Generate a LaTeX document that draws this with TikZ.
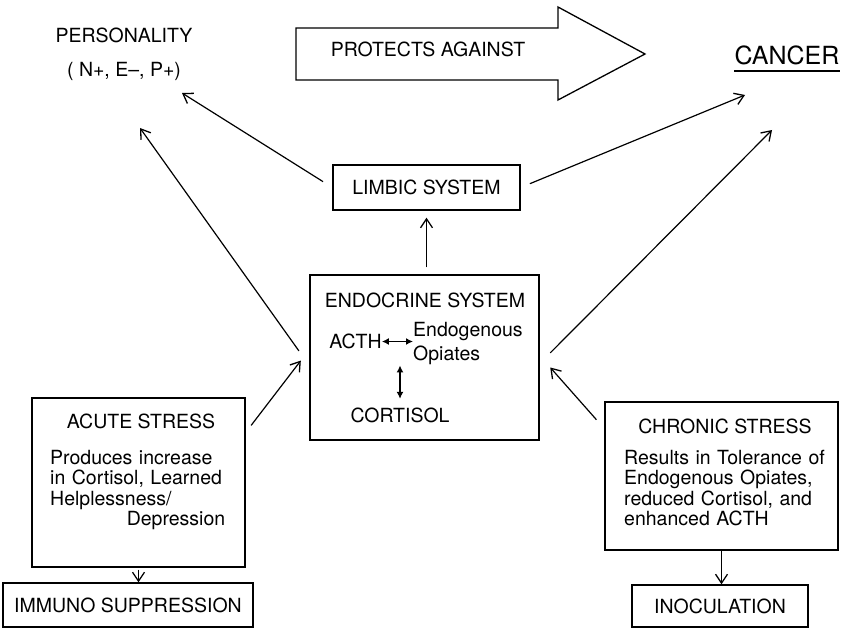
\documentclass[tikz,border=0pt]{standalone}
\usepackage{fontspec}
\setmainfont{TeX Gyre Heros}
\usetikzlibrary{arrows.meta}

\begin{document}
\begin{tikzpicture}
[x=1pt,y=-1pt,
 font=\fontsize{19.5}{20.5}\selectfont,
 box/.style={draw,line width=1.3pt,inner sep=0pt},
 lbl/.style={inner sep=0pt},
 txt/.style={inner sep=0pt,align=left,anchor=north west},
 arr/.style={line width=1.2pt,-{Straight Barb[length=9pt,width=12pt,line width=1.3pt]}},
 dbl/.style={line width=1.4pt,{Latex[length=7pt,width=7pt]}-{Latex[length=7pt,width=7pt]}}]
\useasboundingbox (0,0) rectangle (845,628);
\node[lbl] (pers) at (124,35.5) {PERSONALITY};
\node[lbl] (pvals) at (124,71) {( N+, E–, P+)};
\draw[line width=1.3pt] (296,28) -- (558,28) -- (558,7) -- (645,54) -- (558,100) -- (558,80) -- (296,80) -- cycle;
\node[lbl] (protects) at (428,49) {PROTECTS AGAINST};
\node[lbl,font=\fontsize{25}{26}\selectfont] (cancer) at (787,55) {CANCER};
\draw[line width=1.4pt] ([yshift=-7pt]cancer.base west) -- ([yshift=-7pt]cancer.base east);
\coordinate (p1) at (182,93);
\coordinate (p2) at (140,128);
\coordinate (c1) at (745,95);
\coordinate (c2) at (772,130);
\node[box,minimum width=187pt,minimum height=45pt] (limbic) at (426.5,187.5) {LIMBIC SYSTEM};
\node[box,minimum width=229pt,minimum height=165pt] (endocrine) at (424.5,357.5) {};
\node[lbl] (endotitle) at (425,300) {ENDOCRINE SYSTEM};
\node[lbl] (acth) at (355.5,341.5) {ACTH};
\node[lbl,align=left,anchor=west,font=\fontsize{19.5}{24}\selectfont] (opiates) at (413,344) {Endogenous\\Opiates};
\node[lbl] (cortisol) at (400,415.5) {CORTISOL};
\draw[dbl] (acth.east) -- (acth.east -| opiates.west);
\draw[dbl,shorten <=9pt] (cortisol.north) -- (cortisol.north |- opiates.south);
\node[box,minimum width=213pt,minimum height=169pt] (acute) at (138.5,482.5) {};
\node[lbl] (acutetitle) at (141,421) {ACUTE STRESS};
\node[txt,text width=175pt] (acutetext) at (50,450) {Produces increase\\in Cortisol, Learned\\Helplessness/\\\mbox{}\hfill Depression};
\node[box,minimum width=233pt,minimum height=148pt] (chronic) at (721.5,476) {};
\node[lbl] (chronictitle) at (725,426.5) {CHRONIC STRESS};
\node[txt,text width=210pt] (chronictext) at (624,450) {Results in Tolerance of\\Endogenous Opiates,\\reduced Cortisol, and\\enhanced ACTH};
\node[box,minimum width=250pt,minimum height=44pt] (immuno) at (128,605) {IMMUNO SUPPRESSION};
\node[box,minimum width=176pt,minimum height=42pt] (inoc) at (720,606) {INOCULATION};
\draw[arr,shorten <=11pt] (limbic.west) -- (p1);
\draw[arr,shorten <=18pt] (endocrine.184) -- (p2);
\draw[arr,shorten <=10pt] (limbic.east) -- (c1);
\draw[arr,shorten <=15pt] (endocrine.357) -- (c2);
\draw[arr,shorten <=7pt,shorten >=7pt] (limbic.south |- endocrine.north) -- (limbic.south);
\draw[arr,shorten <=9pt,shorten >=14pt] (acute.25) -- (endocrine.176);
\draw[arr,shorten <=12pt,shorten >=16pt] (chronic.158) -- (endocrine.1);
\draw[arr,shorten <=2pt] (acute.south) -- (acute.south |- immuno.north);
\draw[arr] (chronic.south) -- (chronic.south |- inoc.north);
\end{tikzpicture}
\end{document}
